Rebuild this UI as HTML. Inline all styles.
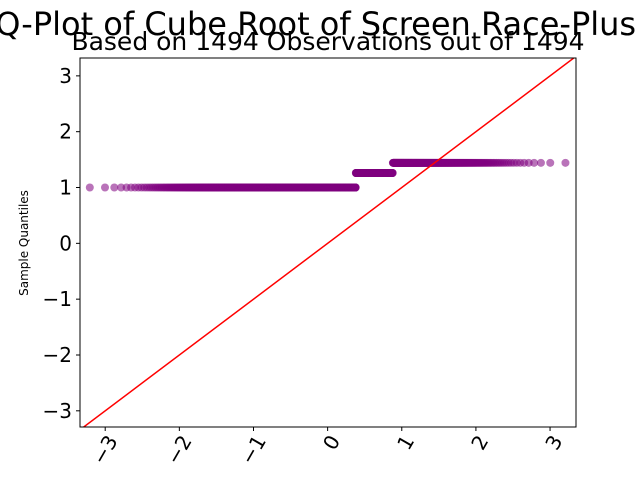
<!DOCTYPE html>
<html><head><meta charset="utf-8"><style>
html,body{margin:0;padding:0;background:#fff;width:640px;height:480px;overflow:hidden}
text{font-family:"DejaVu Sans","Liberation Sans",sans-serif}
</style></head><body>
<svg id="chart" width="640" height="480">
<text x="-30" y="35" font-size="32" fill="#000">QQ-Plot of Cube Root of Screen Race-Plus</text>
<text x="328" y="50" font-size="25" text-anchor="middle" fill="#000">Based on 1494 Observations out of 1494</text>
<text transform="translate(28,243) rotate(-90)" font-size="12" text-anchor="middle">Sample Quantiles</text>
<defs><clipPath id="clip"><rect x="80" y="58" width="496" height="369"/></clipPath></defs>
<g id="points" clip-path="url(#clip)"></g>
<g id="refline" clip-path="url(#clip)"></g>
<rect x="80" y="58" width="496" height="369" fill="none" stroke="#000" stroke-width="1"/>
<g id="xticks"></g><g id="yticks"></g>
</svg>
<script>
const sampleLevels = [1.0, 1.26, 1.442];
const levelCounts = [968, 243, 283];
const xTickLabels = [-3, -2, -1, 0, 1, 2, 3];
const yTickLabels = [-3, -2, -1, 0, 1, 2, 3];
const xDomain = [-3.34, 3.35], yDomain = [-3.29, 3.32];
const L=80,R=576,T=58,B=427;
const sx=v=>L+(v-xDomain[0])/(xDomain[1]-xDomain[0])*(R-L);
const sy=v=>B-(v-yDomain[0])/(yDomain[1]-yDomain[0])*(B-T);
const NS="http://www.w3.org/2000/svg";
function invNorm(p){
 const a=[-39.69683028665376,220.9460984245205,-275.9285104469687,138.357751867269,-30.66479806614716,2.506628277459239];
 const b=[-54.47609879822406,161.5858368580409,-155.6989798598866,66.80131188771972,-13.28068155288572];
 const c=[-0.007784894002430293,-0.3223964580411365,-2.400758277161838,-2.549732539343734,4.374664141464968,2.938163982698783];
 const d=[0.007784695709041462,0.3224671290700398,2.445134137142996,3.754408661907416];
 const pl=0.02425;let q,r;
 if(p<pl){q=Math.sqrt(-2*Math.log(p));return(((((c[0]*q+c[1])*q+c[2])*q+c[3])*q+c[4])*q+c[5])/((((d[0]*q+d[1])*q+d[2])*q+d[3])*q+1);}
 if(p>1-pl){q=Math.sqrt(-2*Math.log(1-p));return-(((((c[0]*q+c[1])*q+c[2])*q+c[3])*q+c[4])*q+c[5])/((((d[0]*q+d[1])*q+d[2])*q+d[3])*q+1);}
 q=p-0.5;r=q*q;return(((((a[0]*r+a[1])*r+a[2])*r+a[3])*r+a[4])*r+a[5])*q/(((((b[0]*r+b[1])*r+b[2])*r+b[3])*r+b[4])*r+1);
}
const n=levelCounts.reduce((s,v)=>s+v,0);
const pts=document.getElementById('points');
let i=0;
levelCounts.forEach((cnt,k)=>{
 for(let j=0;j<cnt;j++,i++){
  const tq=invNorm((i+1)/(n+1));
  const c=document.createElementNS(NS,'circle');
  c.setAttribute('cx',sx(tq));c.setAttribute('cy',sy(sampleLevels[k]));c.setAttribute('r',4);
  c.setAttribute('fill','purple');c.setAttribute('fill-opacity',0.55);
  
  
  pts.appendChild(c);
 }
});
const ln=document.createElementNS(NS,'line');
ln.setAttribute('x1',sx(-4));ln.setAttribute('y1',sy(-4));ln.setAttribute('x2',sx(4));ln.setAttribute('y2',sy(4));
ln.setAttribute('stroke','red');ln.setAttribute('stroke-width',1.5);


document.getElementById('refline').appendChild(ln);
const xt=document.getElementById('xticks');
xTickLabels.forEach(v=>{
 const x=sx(v);
 const t=document.createElementNS(NS,'line');
 t.setAttribute('x1',x);t.setAttribute('x2',x);t.setAttribute('y1',B);t.setAttribute('y2',B+4);t.setAttribute('stroke','#000');
 
 
 xt.appendChild(t);
 const tx=document.createElementNS(NS,'text');
 tx.setAttribute('transform',`translate(${x+7},${B+10}) rotate(-60)`);
 tx.setAttribute('text-anchor','end');tx.setAttribute('font-size','20');tx.setAttribute('dy','0.35em');
 tx.textContent=v<0?'\u2212'+Math.abs(v):String(v);
 
 
 xt.appendChild(tx);
});
const yt=document.getElementById('yticks');
yTickLabels.forEach(v=>{
 const y=sy(v);
 const t=document.createElementNS(NS,'line');
 t.setAttribute('x1',L-4);t.setAttribute('x2',L);t.setAttribute('y1',y);t.setAttribute('y2',y);t.setAttribute('stroke','#000');
 
 
 yt.appendChild(t);
 const tx=document.createElementNS(NS,'text');
 tx.setAttribute('x',L-8);tx.setAttribute('y',y);tx.setAttribute('dy','0.35em');
 tx.setAttribute('text-anchor','end');tx.setAttribute('font-size','20');
 tx.textContent=v<0?'\u2212'+Math.abs(v):String(v);
 
 
 yt.appendChild(tx);
});
</script>
</body></html>
